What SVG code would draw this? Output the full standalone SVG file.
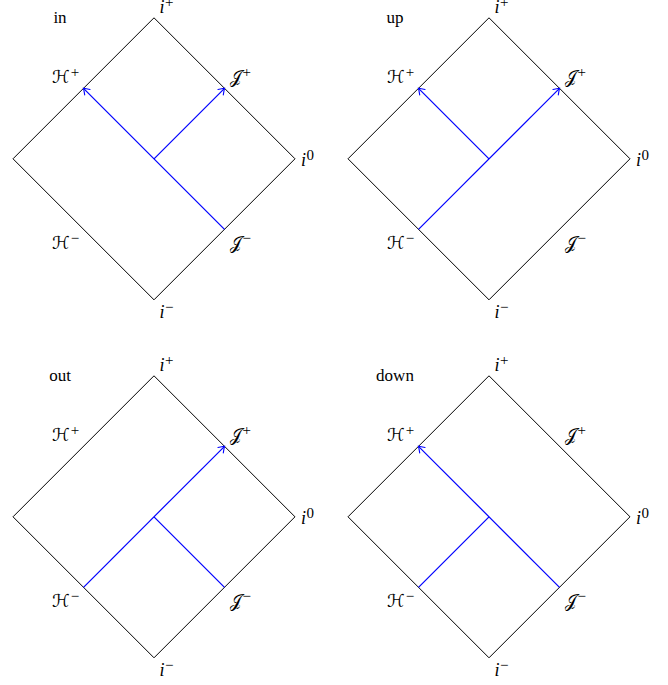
<svg xmlns="http://www.w3.org/2000/svg" width="668" height="685" viewBox="0 0 668 685" font-family="'Liberation Serif', 'DejaVu Serif', serif">
<style>
.bg{fill:#fff}
.dia{fill:none;stroke:#000;stroke-width:1}
.ray{fill:none;stroke:#0000ff;stroke-width:1.2}
.arr{marker-end:url(#ah)}
text{font-family:"Liberation Serif","DejaVu Serif",serif;font-size:17px;fill:#000}
.m{font-style:italic;font-size:18px}
.s{font-family:"Liberation Serif",serif;font-size:15px;font-style:normal}
.cal{font-family:"DejaVu Sans",sans-serif;font-style:normal;font-size:18px}
.scr{font-family:"DejaVu Serif","Noto Sans",serif;font-style:normal;font-size:17px}
.t{text-anchor:middle}
</style>
<defs>
<marker id="ah" markerUnits="userSpaceOnUse" markerWidth="12" markerHeight="12" viewBox="-7 -6 8 12" refX="0" refY="0" orient="auto">
<path d="M-5.5,-3.8 Q-2,-1.2 0,0 Q-2,1.2 -5.5,3.8" fill="none" stroke="#0000ff" stroke-width="1.1" stroke-linecap="round"/>
</marker>
<g id="frame">
<path class="dia" d="M154,17.8 L295,158.8 L154,299.8 L13,158.8 Z"/>
<text class="m" x="159.5" y="13">i<tspan class="s" dx="0.5" dy="-6">+</tspan></text>
<text class="cal" x="52" y="83">ℋ<tspan class="s" dx="1" dy="-6">+</tspan></text>
<text class="scr" x="230" y="83">𝒥<tspan class="s" dx="0.5" dy="-6">+</tspan></text>
<text class="m" x="301" y="166">i<tspan class="s" dx="0.5" dy="-6">0</tspan></text>
<text class="cal" x="52" y="249">ℋ<tspan class="s" dx="1" dy="-6">−</tspan></text>
<text class="scr" x="230" y="249">𝒥<tspan class="s" dx="0.5" dy="-6">−</tspan></text>
<text class="m" x="159.5" y="318">i<tspan class="s" dx="0.5" dy="-6">−</tspan></text>
</g>
</defs>
<rect class="bg" width="668" height="685"/>
<g id="panel-in">
<use href="#frame"/>
<text class="t" x="60" y="23">in</text>
</g>
<g id="panel-up" transform="translate(335,0)">
<use href="#frame"/>
<text class="t" x="60" y="23">up</text>
</g>
<g id="panel-out" transform="translate(0,358)">
<use href="#frame"/>
<text class="t" x="60" y="23">out</text>
</g>
<g id="panel-down" transform="translate(335,358)">
<use href="#frame"/>
<text class="t" x="60" y="23">down</text>
</g>
<g id="connectors">
<g id="rays-in">
<path class="ray arr" d="M224.5,229.3 L83.5,88.3"/>
<path class="ray arr" d="M154,158.8 L224.5,88.3"/>
</g>
<g id="rays-up" transform="translate(335,0)">
<path class="ray arr" d="M83.5,229.3 L224.5,88.3"/>
<path class="ray arr" d="M154,158.8 L83.5,88.3"/>
</g>
<g id="rays-out" transform="translate(0,358)">
<path class="ray arr" d="M83.5,229.3 L224.5,88.3"/>
<path class="ray" d="M224.5,229.3 L154,158.8"/>
</g>
<g id="rays-down" transform="translate(335,358)">
<path class="ray arr" d="M224.5,229.3 L83.5,88.3"/>
<path class="ray" d="M83.5,229.3 L154,158.8"/>
</g>
</g>
</svg>
